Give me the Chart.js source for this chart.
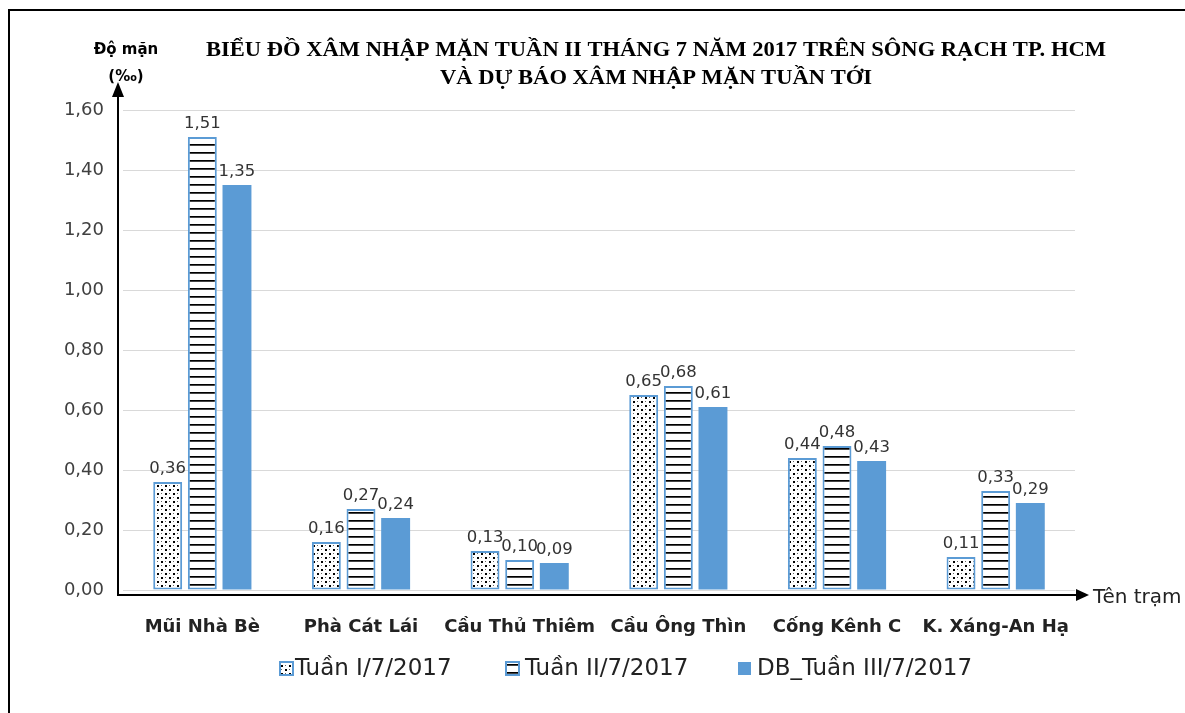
<!DOCTYPE html>
<html>
<head>
<meta charset="utf-8">
<script src="https://cdn.jsdelivr.net/npm/chart.js@4"></script>
<style>
  body { margin: 0; background: #fff; }
  #chart { display: block; }
</style>
</head>
<body>
<canvas id="chart" width="1185" height="713"></canvas>
<script>
const categories = ['Mũi Nhà Bè', 'Phà Cát Lái', 'Cầu Thủ Thiêm', 'Cầu Ông Thìn', 'Cống Kênh C', 'K. Xáng-An Hạ'];
const tuan1 = [0.36, 0.16, 0.13, 0.65, 0.44, 0.11];
const tuan2 = [1.51, 0.27, 0.10, 0.68, 0.48, 0.33];
const dbTuan3 = [1.35, 0.24, 0.09, 0.61, 0.43, 0.29];
const seriesNames = ['Tuần I/7/2017', 'Tuần II/7/2017', 'DB_Tuần III/7/2017'];
const titleLines = ['BIỂU ĐỒ XÂM NHẬP MẶN TUẦN II THÁNG 7 NĂM 2017 TRÊN SÔNG RẠCH TP. HCM', 'VÀ DỰ BÁO XÂM NHẬP MẶN TUẦN TỚI'];
const yTitle = ['Độ mặn', '(‰)'];
const xTitle = 'Tên trạm';

const blue = '#5B9BD5';
const canvas = document.getElementById('chart');
const ctx = canvas.getContext('2d');

function dotPattern() {
  const c = document.createElement('canvas');
  c.width = 8; c.height = 8;
  const g = c.getContext('2d');
  g.fillStyle = '#fff';
  g.fillRect(0, 0, 8, 8);
  g.fillStyle = '#000';
  g.fillRect(1, 1, 2, 2);
  g.fillRect(5, 5, 2, 2);
  g.fillStyle = '#666';
  g.fillRect(5, 1, 1, 1);
  g.fillRect(1, 5, 1, 1);
  return ctx.createPattern(c, 'repeat');
}

function stripePattern() {
  const c = document.createElement('canvas');
  c.width = 4; c.height = 8;
  const g = c.getContext('2d');
  g.fillStyle = '#fff';
  g.fillRect(0, 0, 4, 8);
  g.fillStyle = '#000';
  g.fillRect(0, 0, 4, 1);
  g.fillStyle = '#444';
  g.fillRect(0, 1, 4, 1);
  return ctx.createPattern(c, 'repeat');
}

const fills = [dotPattern(), stripePattern(), blue];
const fmt = v => v.toFixed(2).replace('.', ',');

const valueLabels = {
  id: 'valueLabels',
  afterDatasetsDraw(chart) {
    const c = chart.ctx;
    c.save();
    c.font = '16.5px "DejaVu Sans"';
    c.fillStyle = '#333';
    c.textAlign = 'center';
    c.textBaseline = 'bottom';
    chart.data.datasets.forEach((ds, i) => {
      chart.getDatasetMeta(i).data.forEach((el, j) => {
        c.fillText(fmt(ds.data[j]), el.x, el.y - 5);
      });
    });
    c.restore();
  }
};

const decorations = {
  id: 'decorations',
  afterDraw(chart) {
    const c = chart.ctx;
    const a = chart.chartArea;
    c.save();

    // outer frame (left + top)
    c.strokeStyle = '#000';
    c.lineWidth = 2;
    c.beginPath();
    c.moveTo(9, 713);
    c.lineTo(9, 10);
    c.lineTo(1185, 10);
    c.stroke();

    // axes with arrows
    const ax = a.left - 5, ay = a.bottom + 5;
    c.lineWidth = 2;
    c.beginPath();
    c.moveTo(ax, ay);
    c.lineTo(ax, a.top - 20);
    c.moveTo(ax - 1, ay);
    c.lineTo(a.right + 3, ay);
    c.stroke();
    c.fillStyle = '#000';
    c.beginPath();
    c.moveTo(ax, a.top - 28);
    c.lineTo(ax - 6, a.top - 13);
    c.lineTo(ax + 6, a.top - 13);
    c.closePath();
    c.fill();
    c.beginPath();
    c.moveTo(a.right + 14, ay);
    c.lineTo(a.right + 1, ay - 6);
    c.lineTo(a.right + 1, ay + 6);
    c.closePath();
    c.fill();

    // title, stretched to the width of the original
    c.textAlign = 'center';
    c.textBaseline = 'middle';
    c.fillStyle = '#000';
    c.font = 'bold 21px "Liberation Serif"';
    const k = 900 / c.measureText(titleLines[0]).width;
    [[titleLines[0], 51], [titleLines[1], 79]].forEach(([t, y]) => {
      c.save();
      c.translate(656, y);
      c.scale(k, 1);
      c.fillText(t, 0, 0);
      c.restore();
    });

    // axis titles
    c.font = 'bold 15px "DejaVu Sans"';
    c.fillText(yTitle[0], 126, 50);
    c.fillText(yTitle[1], 126, 77);
    c.textAlign = 'left';
    c.font = '20px "DejaVu Sans"';
    c.fillStyle = '#222';
    c.fillText(xTitle, a.right + 18, ay + 3);

    // legend
    const lx = [280, 506, 738];
    const tx = [295, 525, 757];
    const ly = 668;
    c.font = '23px "DejaVu Sans"';
    seriesNames.forEach((name, i) => {
      c.fillStyle = fills[i];
      c.fillRect(lx[i], ly - 6, 13, 13);
      if (i < 2) {
        c.strokeStyle = blue;
        c.lineWidth = 2;
        c.strokeRect(lx[i], ly - 6, 13, 13);
      }
      c.fillStyle = '#222';
      c.fillText(name, tx[i], ly + 1);
    });

    c.restore();
  }
};

new Chart(canvas, {
  type: 'bar',
  data: {
    labels: categories,
    datasets: [
      { label: seriesNames[0], data: tuan1, backgroundColor: fills[0], borderColor: blue, borderWidth: 2, borderSkipped: false },
      { label: seriesNames[1], data: tuan2, backgroundColor: fills[1], borderColor: blue, borderWidth: 2, borderSkipped: false },
      { label: seriesNames[2], data: dbTuan3, backgroundColor: fills[2], borderWidth: 0 }
    ]
  },
  options: {
    responsive: false,
    animation: false,
    categoryPercentage: 0.655,
    barPercentage: 0.835,
    layout: { padding: { top: 110, right: 110, left: 0, bottom: 0 } },
    plugins: {
      legend: { display: false },
      title: { display: false },
      tooltip: { enabled: false }
    },
    scales: {
      x: {
        grid: { display: false },
        border: { display: false },
        ticks: {
          font: { family: 'DejaVu Sans', size: 18, weight: 'bold' },
          color: '#222',
          padding: 19,
          maxRotation: 0
        },
        afterFit: s => { s.height = 123; }
      },
      y: {
        min: 0,
        max: 1.6,
        grid: { color: '#d9d9d9', lineWidth: 1, drawTicks: false },
        border: { display: false },
        ticks: {
          stepSize: 0.2,
          font: { family: 'DejaVu Sans', size: 18 },
          color: '#404040',
          padding: 19,
          callback: v => fmt(v)
        },
        afterFit: s => { s.width = 123; }
      }
    }
  },
  plugins: [valueLabels, decorations]
});
</script>
</body>
</html>
